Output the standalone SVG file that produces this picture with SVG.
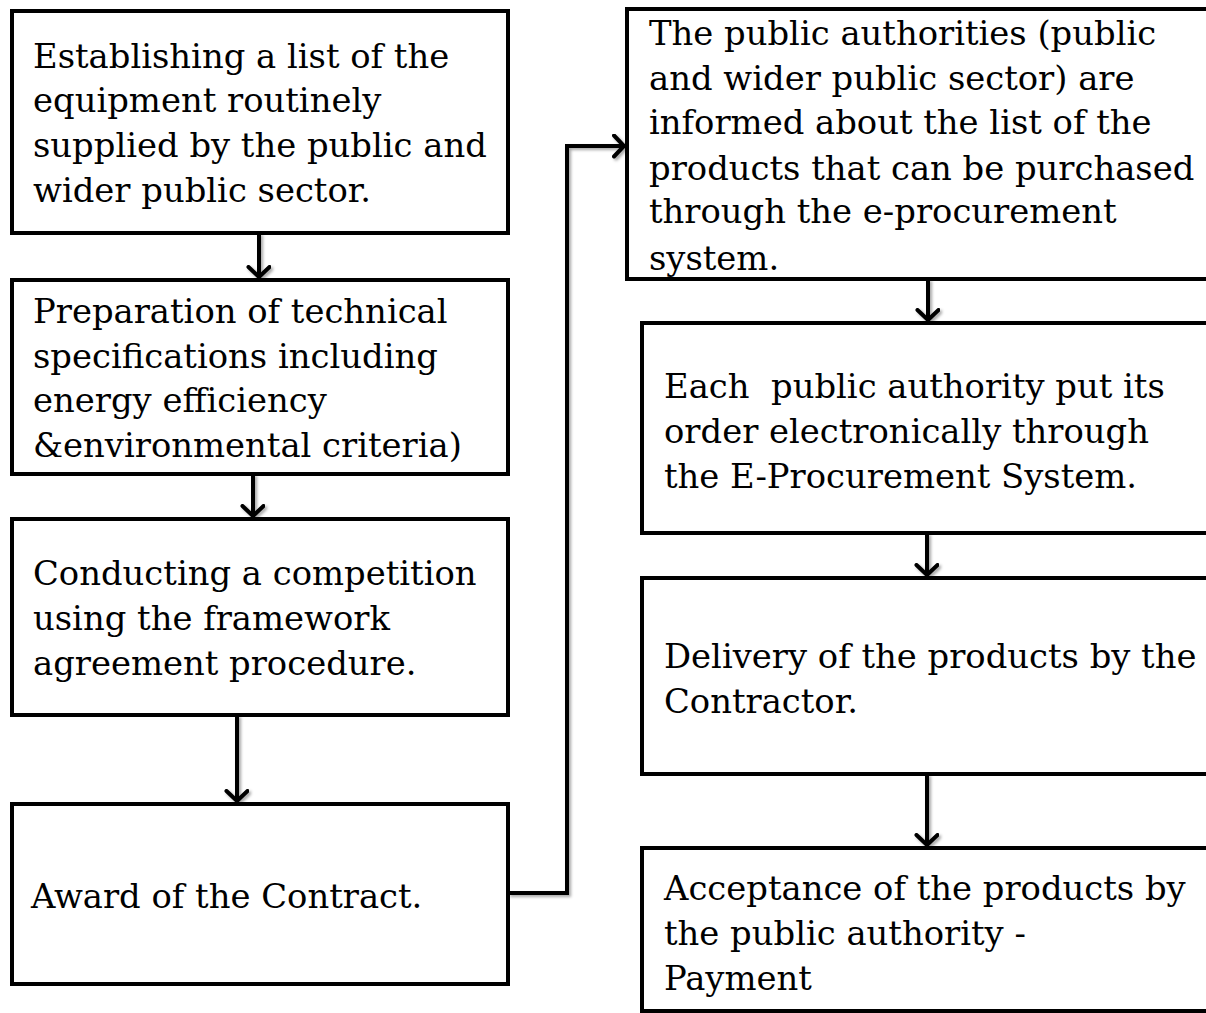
<svg xmlns="http://www.w3.org/2000/svg" width="1206" height="1013" viewBox="0 0 1206 1013">
<style>
.box{fill:#fff;stroke:#000;stroke-width:4}
.t{font-family:"DejaVu Serif","Liberation Serif",serif;font-size:33.8px;fill:#000}
.c{fill:none;stroke:#000;stroke-width:4;filter:url(#sh)}
</style>
<defs>
<filter id="sh" filterUnits="userSpaceOnUse" x="0" y="0" width="1206" height="1013">
<feDropShadow dx="2" dy="2" stdDeviation="1.5" flood-color="#000" flood-opacity="0.35"/>
</filter>
<marker id="ah" markerWidth="26" markerHeight="26" refX="13" refY="12" orient="auto" markerUnits="userSpaceOnUse">
<path d="M2,1.5 L12,12 L2,22.5" fill="none" stroke="#000" stroke-width="4" stroke-linecap="round" stroke-linejoin="miter"/>
</marker>
</defs>
<rect width="1206" height="1013" fill="#fff"/>
<g id="connectors">
<path class="c" d="M259,233 V278" marker-end="url(#ah)"/>
<path class="c" d="M253,474 V517" marker-end="url(#ah)"/>
<path class="c" d="M237,715 V802" marker-end="url(#ah)"/>
<path class="c" d="M508,893 H567 V146 H625" marker-end="url(#ah)"/>
<path class="c" d="M928,279 V321" marker-end="url(#ah)"/>
<path class="c" d="M927,533 V576" marker-end="url(#ah)"/>
<path class="c" d="M927,774 V846" marker-end="url(#ah)"/>
</g>
<g id="n1">
<rect class="box" x="12" y="11" width="496" height="222"/>
<text class="t" x="33" y="68">Establishing a list of the</text>
<text class="t" x="33" y="112">equipment routinely</text>
<text class="t" x="33" y="157">supplied by the public and</text>
<text class="t" x="33" y="202">wider public sector.</text>
</g>
<g id="n2">
<rect class="box" x="12" y="280" width="496" height="194"/>
<text class="t" x="33" y="323">Preparation of technical</text>
<text class="t" x="33" y="368">specifications including</text>
<text class="t" x="33" y="412">energy efficiency</text>
<text class="t" x="33" y="457">&amp;environmental criteria)</text>
</g>
<g id="n3">
<rect class="box" x="12" y="519" width="496" height="196"/>
<text class="t" x="33" y="585">Conducting a competition</text>
<text class="t" x="33" y="630">using the framework</text>
<text class="t" x="33" y="675">agreement procedure.</text>
</g>
<g id="n4">
<rect class="box" x="12" y="804" width="496" height="180"/>
<text class="t" x="31" y="908">Award of the Contract.</text>
</g>
<g id="n5">
<rect class="box" x="627" y="9" width="590" height="270"/>
<text class="t" x="649" y="45">The public authorities (public</text>
<text class="t" x="649" y="90">and wider public sector) are</text>
<text class="t" x="649" y="134">informed about the list of the</text>
<text class="t" x="649" y="180">products that can be purchased</text>
<text class="t" x="649" y="223">through the e-procurement</text>
<text class="t" x="649" y="270">system.</text>
</g>
<g id="n6">
<rect class="box" x="642" y="323" width="580" height="210"/>
<text class="t" x="664" y="398" xml:space="preserve">Each  public authority put its</text>
<text class="t" x="664" y="443">order electronically through</text>
<text class="t" x="664" y="488">the E-Procurement System.</text>
</g>
<g id="n7">
<rect class="box" x="642" y="578" width="580" height="196"/>
<text class="t" x="664" y="668">Delivery of the products by the</text>
<text class="t" x="664" y="713">Contractor.</text>
</g>
<g id="n8">
<rect class="box" x="642" y="848" width="580" height="163"/>
<text class="t" x="664" y="900">Acceptance of the products by</text>
<text class="t" x="664" y="945">the public authority -</text>
<text class="t" x="664" y="990">Payment</text>
</g>
</svg>
